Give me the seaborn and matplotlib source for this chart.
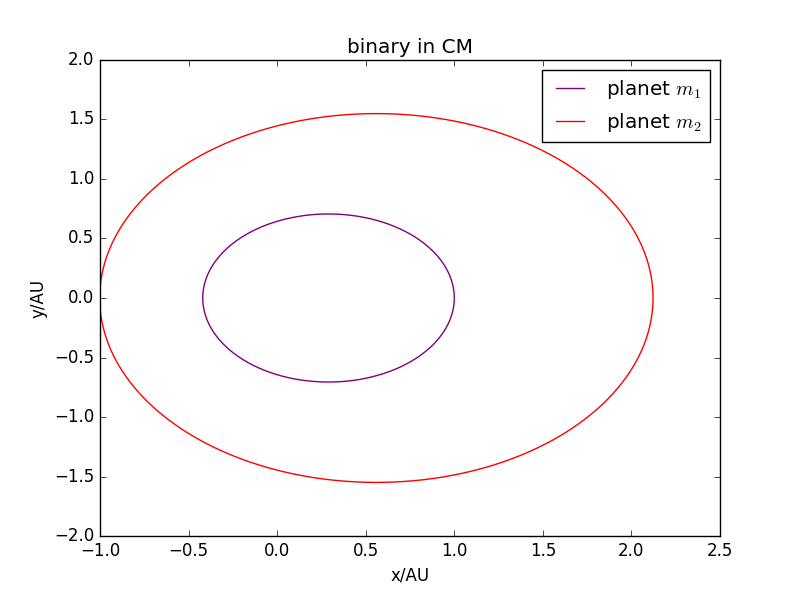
import numpy as np
import pandas as pd
import matplotlib
matplotlib.use('Agg')
import matplotlib.pyplot as plt
import seaborn as sns

plt.style.use('classic')

# orbit shapes (AU)
planets = ['planet $m_1$', 'planet $m_2$']
x_center = [0.29, 0.56]
semi_x = [0.71, 1.562]
semi_y = [0.705, 1.547]
start_angle = [0.0, np.pi]
colors = ['purple', 'red']

frames = []
for name, cx, ax_, by, t0 in zip(planets, x_center, semi_x, semi_y, start_angle):
    t = np.linspace(t0, t0 + 2 * np.pi * 0.997, 600)
    frames.append(pd.DataFrame({'x': cx + ax_ * np.cos(t),
                                'y': by * np.sin(t),
                                'planet': name}))
df = pd.concat(frames, ignore_index=True)

fig = plt.figure(figsize=(8, 5.96), dpi=100, facecolor='white')
ax = fig.add_subplot(111)
for name, c in zip(planets, colors):
    d = df[df['planet'] == name]
    sns.lineplot(x='x', y='y', data=d, sort=False, estimator=None,
                 color=c, linewidth=1.0, label=name, ax=ax)

ax.set_xlim(-1.0, 2.5)
ax.set_ylim(-2.0, 2.0)
ax.set_title('binary in CM')
ax.set_xlabel('x/AU')
ax.set_ylabel('y/AU')
ax.legend(loc='upper right')

fig.savefig('out.png', dpi=100, facecolor='white')
